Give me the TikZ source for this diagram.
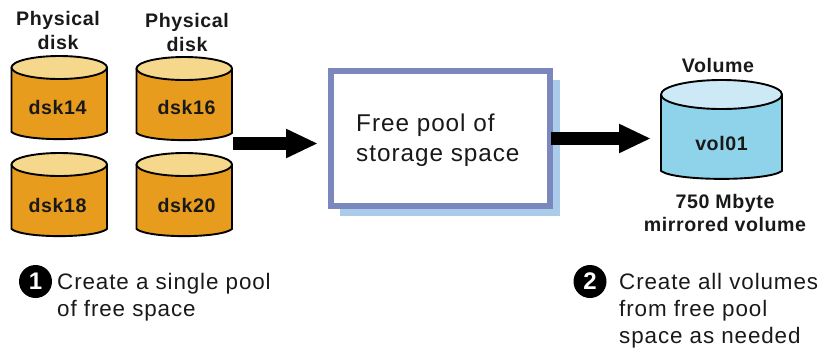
\documentclass[tikz,border=0pt]{standalone}
\usepackage{fontspec}
\setmainfont{Liberation Sans}
\usetikzlibrary{arrows.meta}
\definecolor{diskside}{HTML}{E89C1E}
\definecolor{disktop}{HTML}{F6D88C}
\definecolor{volside}{HTML}{8FD3EA}
\definecolor{voltop}{HTML}{CDE9F5}
\definecolor{poolline}{HTML}{7A88BE}
\definecolor{poolshade}{HTML}{ABCBEB}
\newfontfamily\lsfont[LetterSpace=4]{Liberation Sans}
\newfontfamily\lsbold[LetterSpace=3,BoldFont={Liberation Sans Bold}]{Liberation Sans}
\tikzset{
  x=1pt,y=-1pt,
  cyl/.style={draw=black,line width=1.9pt,line join=round},
  boldlabel/.style={font=\fontsize{19.6}{23.5}\selectfont\lsbold\bfseries,align=center,inner sep=0pt,text=black!90},
  plainlabel/.style={font=\fontsize{24.3}{30}\selectfont\lsfont,align=left,inner sep=0pt,text=black!90},
  steplabel/.style={font=\fontsize{22.4}{27}\selectfont\lsfont,align=left,inner sep=0pt,anchor=base west,text=black!90},
  badge/.style={circle,fill=black,text=white,minimum size=33pt,inner sep=0pt,font=\fontsize{24}{24}\selectfont\bfseries},
  bigarrow/.style={line width=13pt,-{Triangle[length=32pt,width=27pt]},shorten >=0pt},
}
% #1 name, #2 left, #3 right, #4 top of lid, #5 lid height, #6 corner y, #7 lowest y, #8 side, #9 lid
\newcommand{\drum}[9]{%
  \path[cyl,fill=#8] (#2,#4+#5/2) -- (#2,#6)
    .. controls (#2+0.12*#3-0.12*#2,#7+0.5) and (#3-0.12*#3+0.12*#2,#7+0.5) .. (#3,#6)
    -- (#3,#4+#5/2) -- cycle;
  \path[cyl,fill=#9] ({(#2+#3)/2},{#4+#5/2}) ellipse [x radius={(#3-#2)/2},y radius={#5/2}];
  \node[inner sep=0pt,minimum width={(#3-#2)*1pt},minimum height={(#7-#4)*1pt}] (#1) at ({(#2+#3)/2},{(#4+#7)/2}) {};
}
\begin{document}
\begin{tikzpicture}
\useasboundingbox (0,0) rectangle (820,349);
% disks
\drum{d14}{11.5}{107}{56}{23}{132}{141}{diskside}{disktop}
\drum{d16}{136.5}{232}{57}{23}{133}{142}{diskside}{disktop}
\drum{d18}{11.5}{107}{153}{23}{229}{238}{diskside}{disktop}
\drum{d20}{136.5}{232}{153}{23}{229}{238}{diskside}{disktop}
\node[boldlabel] (t14) at (57.5,107) {dsk14};
\node[boldlabel] (t16) at (186.5,107.5) {dsk16};
\node[boldlabel] (t18) at (57.5,205) {dsk18};
\node[boldlabel] (t20) at (186.5,205) {dsk20};
\node[boldlabel] (p1) at (58,30.5) {Physical\\disk};
\node[boldlabel] (p2) at (187,32.5) {Physical\\disk};
% pool
\fill[poolshade] (340,80) rectangle (560,216);
\node[draw=poolline,line width=6pt,fill=white,minimum width=219pt,minimum height=135pt,inner sep=0pt] (pool) at (440.5,138.5) {};
\node[plainlabel,anchor=west] (pooltext) at (356,140.5) {Free pool of\\storage space};
% volume
\drum{v}{661}{782}{80}{29}{171}{181}{volside}{voltop}
\node[boldlabel] (tv) at (721.5,143) {vol01};
\node[boldlabel] (tvh) at (718,65) {Volume};
\node[boldlabel] (tvs) at (725,213) {750 Mbyte\\mirrored volume};
% arrows
\coordinate (a1s) at (233,143.5);
\coordinate (a1e) at (318,143.5);
\coordinate (a2s) at (551,138.5);
\coordinate (a2e) at (651,138.5);
\draw[bigarrow] (a1s) -- (a1e);
\draw[bigarrow] (a2s) -- (a2e);
% steps
\node[badge] (b1) at (35.5,281.5) {1};
\node[steplabel] (s1) at (57,316) {Create a single pool\\of free space};
\node[badge] (b2) at (590,281.5) {2};
\node[steplabel] (s2) at (619,343) {Create all volumes\\from free pool\\space as needed};
\end{tikzpicture}
\end{document}
